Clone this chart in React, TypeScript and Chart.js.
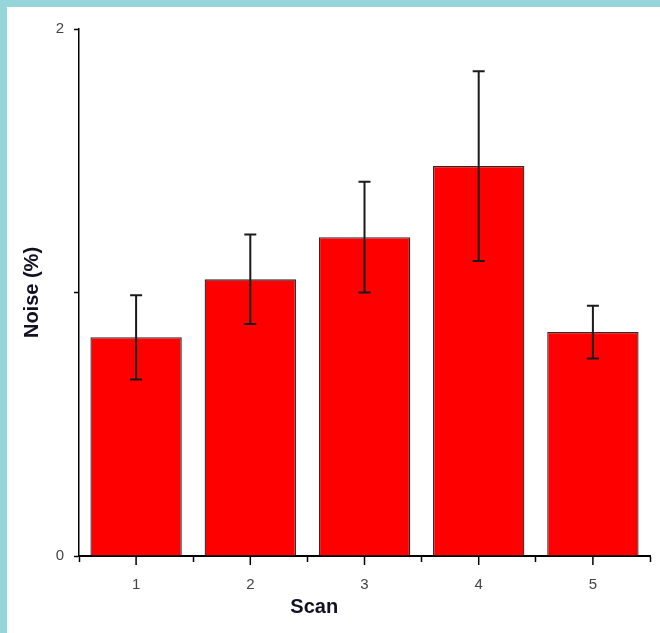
import React, { useEffect, useRef } from 'react';
import { Chart, registerables } from 'chart.js';

Chart.register(...registerables);

// ---- data ----
const categories = ['1', '2', '3', '4', '5'];
const noiseMeans = [0.83, 1.05, 1.21, 1.48, 0.85];
const noiseErrors = [0.16, 0.17, 0.21, 0.36, 0.1];
const yMin = 0;
const yMax = 2;
const yStep = 1;
const yLabelledTicks = [0, 2];
const xTitleText = 'Scan';
const yTitleText = 'Noise (%)';

const TITLE_FONT = '"Liberation Sans", Arial, sans-serif';
const TICK_FONT = '"Liberation Sans Narrow", "Liberation Sans", Arial, sans-serif';

const errorBarPlugin = {
  id: 'errorBars',
  afterDatasetsDraw(chart: any) {
    const meta = chart.getDatasetMeta(0);
    const y = chart.scales.y;
    const ctx = chart.ctx;
    ctx.save();
    ctx.strokeStyle = '#1a1a1a';
    ctx.lineWidth = 2;
    meta.data.forEach((bar: any, i: number) => {
      const x = bar.x;
      const top = y.getPixelForValue(noiseMeans[i] + noiseErrors[i]);
      const bot = y.getPixelForValue(noiseMeans[i] - noiseErrors[i]);
      ctx.beginPath();
      ctx.moveTo(x, top);
      ctx.lineTo(x, bot);
      ctx.moveTo(x - 6, top);
      ctx.lineTo(x + 6, top);
      ctx.moveTo(x - 6, bot);
      ctx.lineTo(x + 6, bot);
      ctx.stroke();
    });
    ctx.restore();
  },
};

const axisExtrasPlugin = {
  id: 'axisExtras',
  afterDraw(chart: any) {
    const ctx = chart.ctx;
    const xs = chart.scales.x;
    const area = chart.chartArea;
    ctx.save();
    // major ticks at category centres
    ctx.strokeStyle = '#000';
    ctx.lineWidth = 1.5;
    categories.forEach((_, i) => {
      const px = xs.getPixelForValue(i);
      ctx.beginPath();
      ctx.moveTo(px, xs.top);
      ctx.lineTo(px, xs.top + 9);
      ctx.stroke();
    });
    // x axis title
    ctx.fillStyle = '#111122';
    ctx.font = 'bold 20px ' + TITLE_FONT;
    ctx.textAlign = 'center';
    ctx.textBaseline = 'middle';
    const cx = area.left + (area.right - area.left) * 0.412;
    ctx.fillText(xTitleText, cx, xs.top + 51);
    ctx.restore();
  },
};

function BarChart() {
  const ref = useRef<HTMLCanvasElement | null>(null);
  useEffect(() => {
    if (!ref.current) return;
    const chart = new Chart(ref.current, {
      type: 'bar',
      data: {
        labels: categories,
        datasets: [
          {
            data: noiseMeans,
            backgroundColor: '#ff0000',
            borderColor: '#2a2a2a',
            borderWidth: 1.3,
            barPercentage: 0.8,
            categoryPercentage: 1.0,
          },
        ],
      },
      options: {
        responsive: false,
        maintainAspectRatio: false,
        animation: false,
        devicePixelRatio: 1,
        layout: { padding: { top: 22, right: 10, left: 0, bottom: 0 } },
        plugins: {
          legend: { display: false },
          tooltip: { enabled: false },
          title: { display: false },
        },
        scales: {
          x: {
            type: 'category',
            offset: true,
            grid: {
              offset: true,
              drawOnChartArea: false,
              drawTicks: true,
              tickLength: 6,
              tickColor: '#000',
              tickWidth: 1.5,
            },
            border: { display: true, color: '#000', width: 2 },
            ticks: {
              color: '#444',
              font: { family: TICK_FONT, size: 15 },
              padding: 14,
              maxRotation: 0,
            },
            afterFit(scale: any) {
              scale.height = 77;
            },
          },
          y: {
            min: yMin,
            max: yMax,
            ticks: {
              stepSize: yStep,
              color: '#444',
              font: { family: TICK_FONT, size: 15 },
              padding: 10,
              callback: (v: any) => (yLabelledTicks.includes(Number(v)) ? String(v) : ''),
            },
            grid: {
              drawOnChartArea: false,
              drawTicks: true,
              tickLength: 5,
              tickColor: '#000',
              tickWidth: 1.5,
            },
            border: { display: true, color: '#000', width: 1.5 },
            title: {
              display: true,
              text: yTitleText,
              color: '#111122',
              font: { family: TITLE_FONT, size: 20, weight: 'bold' },
              padding: { top: 13, bottom: 0 },
            },
            afterFit(scale: any) {
              scale.width = 72;
            },
          },
        },
      },
      plugins: [errorBarPlugin, axisExtrasPlugin],
    } as any);
    return () => chart.destroy();
  }, []);
  return <canvas ref={ref} width={653} height={626} style={{ display: 'block', width: 653, height: 626 }} />;
}

export default function App() {
  return (
    <div
      style={{
        position: 'fixed',
        left: 0,
        top: 0,
        width: 660,
        height: 633,
        background: '#96d5d9',
        overflow: 'hidden',
      }}
    >
      <div
        style={{
          position: 'absolute',
          left: 7,
          top: 7,
          width: 653,
          height: 626,
          background: '#ffffff',
        }}
      >
        <BarChart />
      </div>
    </div>
  );
}
